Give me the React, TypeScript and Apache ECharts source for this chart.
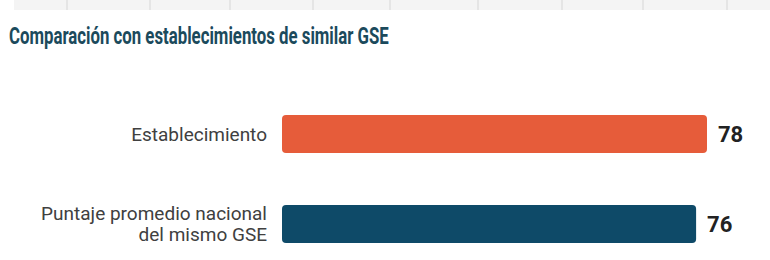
import React, { useEffect, useRef } from "react";
import * as echarts from "echarts";

const titleText = "Comparación con establecimientos de similar GSE";
const categories = ["Establecimiento", "Puntaje promedio nacional\ndel mismo GSE"];
const values = [78, 76];
const barColors = ["#E65C3A", "#0E4A68"];
const stripDividers = [67, 150, 230, 313, 390, 478, 562, 643, 727];

export default function App() {
  const ref = useRef<HTMLDivElement>(null);
  useEffect(() => {
    if (!ref.current) return;
    const chart = echarts.init(ref.current, null, { renderer: "svg" });
    const graphics: any[] = [
      { type: "rect", shape: { x: 14, y: 0, width: 756, height: 10 }, style: { fill: "#f4f4f4" }, silent: true },
      ...stripDividers.map((x) => ({
        type: "line",
        shape: { x1: x, y1: 0, x2: x, y2: 10 },
        style: { stroke: "#e0e0e0", lineWidth: 1.5 },
        silent: true,
      })),
      {
        type: "text",
        x: 9,
        y: 24,
        scaleX: 0.7,
        style: {
          text: titleText,
          font: "bold 24px Roboto",
          fill: "#1B4A5C",
          verticalAlign: "top",
        },
      },
    ];
    chart.setOption({
      animation: false,
      graphic: graphics,
      grid: { left: 282, width: 425, top: 89, height: 180, outerBoundsMode: "none", containLabel: false },
      xAxis: {
        type: "value",
        min: 0,
        max: "dataMax",
        show: false,
      },
      yAxis: {
        type: "category",
        data: categories,
        inverse: true,
        axisLine: { show: false },
        axisTick: { show: false },
        axisLabel: {
          margin: 15,
          fontFamily: "Roboto",
          fontSize: 19,
          lineHeight: 21,
          color: "#404040",
          align: "right",
        },
      },
      series: [
        {
          type: "bar",
          data: values.map((v, i) => ({ value: v, itemStyle: { color: barColors[i] } })),
          barWidth: 38,
          itemStyle: { borderRadius: 4 },
          label: {
            show: true,
            position: "right",
            distance: 11,
            fontFamily: "Roboto",
            fontWeight: "bold",
            fontSize: 22,
            color: "#222222",
          },
        },
      ],
    });
    return () => chart.dispose();
  }, []);
  return <div ref={ref} style={{ width: 770, height: 260, position: "fixed", left: 0, top: 0, background: "#fff" }} />;
}
